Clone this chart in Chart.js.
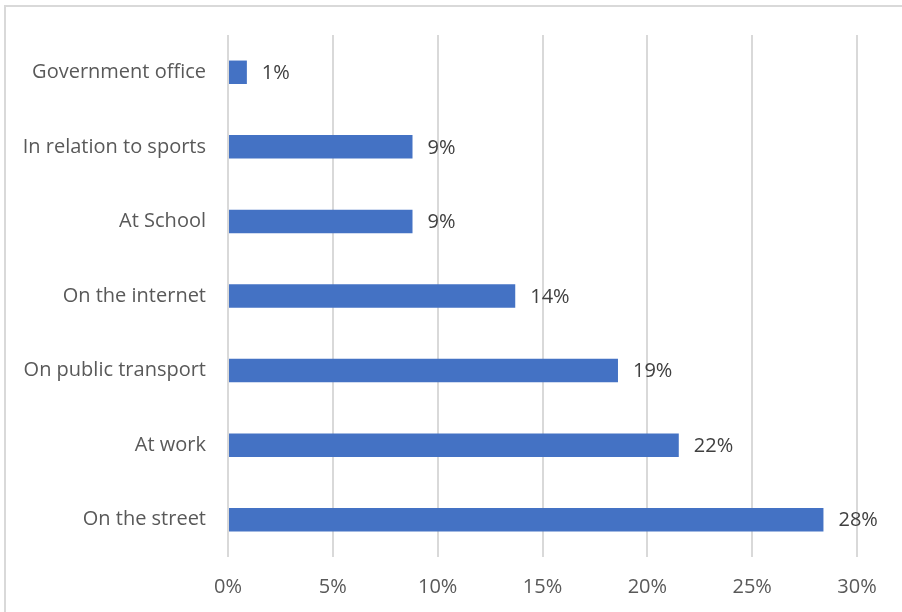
<!DOCTYPE html>
<html>
<head>
<meta charset="utf-8">
<script src="https://cdn.jsdelivr.net/npm/chart.js@4/dist/chart.umd.min.js"></script>
<style>
  html, body { margin: 0; padding: 0; background: #ffffff; }
  body { width: 902px; height: 612px; position: relative; overflow: hidden; }
  .frame { position: absolute; left: 4px; top: 5px; width: 920px; height: 640px;
           border-left: 2px solid #d9d9d9; border-top: 2px solid #d9d9d9; box-sizing: border-box; }
  #wrap { position: absolute; left: 0; top: 0; width: 902px; height: 612px; }
</style>
</head>
<body>
<div class="frame"></div>
<div id="wrap"><canvas id="chart" width="902" height="612"></canvas></div>
<script>
// Where incidents were reported (share of all responses, %)
const categories = [
  'Government office',
  'In relation to sports',
  'At School',
  'On the internet',
  'On public transport',
  'At work',
  'On the street'
];
const shares = [0.9, 8.8, 8.8, 13.7, 18.6, 21.5, 28.4];
const axisTicks = [0, 5, 10, 15, 20, 25, 30];

const FONT = '"Open Sans", Lato, "Liberation Sans", sans-serif';
const FONT_SIZE = 20;

// Writes the rounded percentage just past the end of each bar
const barValueLabels = {
  id: 'barValueLabels',
  afterDatasetsDraw(chart) {
    const ctx = chart.ctx;
    const meta = chart.getDatasetMeta(0);
    const values = chart.data.datasets[0].data;
    ctx.save();
    ctx.font = FONT_SIZE + 'px ' + FONT;
    ctx.fillStyle = '#404040';
    ctx.textAlign = 'left';
    ctx.textBaseline = 'middle';
    meta.data.forEach((bar, i) => {
      ctx.fillText(Math.round(values[i]) + '%', bar.x + 15, bar.y + 1);
    });
    ctx.restore();
  }
};

new Chart(document.getElementById('chart'), {
  type: 'bar',
  data: {
    labels: categories,
    datasets: [{
      data: shares,
      backgroundColor: '#4472C4',
      borderWidth: 0,
      categoryPercentage: 1,
      barPercentage: 0.315
    }]
  },
  options: {
    indexAxis: 'y',
    responsive: false,
    animation: false,
    devicePixelRatio: 1,
    layout: { padding: { top: 35, right: 45, left: 0, bottom: 0 } },
    plugins: {
      legend: { display: false },
      tooltip: { enabled: false }
    },
    scales: {
      x: {
        min: 0,
        max: 30,
        afterBuildTicks(scale) { scale.ticks = axisTicks.map(v => ({ value: v })); },
        afterFit(scale) { scale.height = 55; },
        grid: { color: '#d9d9d9', lineWidth: 2, drawTicks: false },
        border: { display: false },
        ticks: {
          padding: 18,
          color: '#595959',
          font: { family: FONT, size: FONT_SIZE },
          callback: v => v + '%'
        }
      },
      y: {
        afterFit(scale) { scale.width = 228; },
        grid: { display: false, drawTicks: false },
        border: { display: false },
        ticks: {
          padding: 22,
          color: '#595959',
          font: { family: FONT, size: FONT_SIZE }
        }
      }
    }
  },
  plugins: [barValueLabels]
});
</script>
</body>
</html>
